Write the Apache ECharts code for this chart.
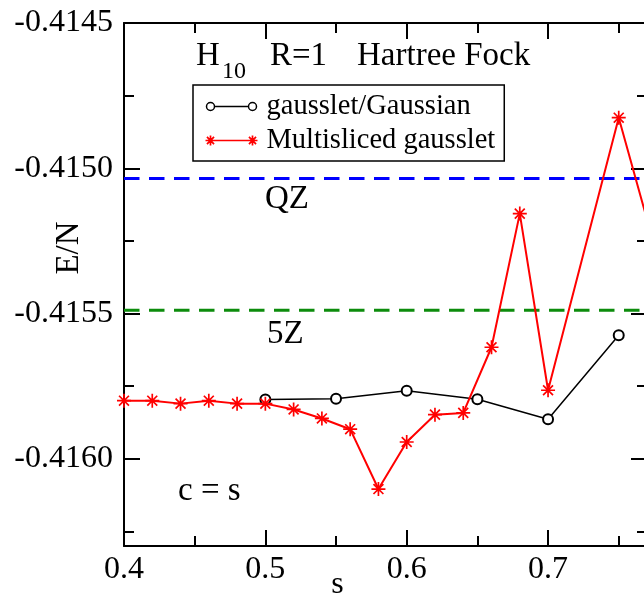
<!DOCTYPE html>
<html><head><meta charset="utf-8">
<script src="https://cdn.jsdelivr.net/npm/echarts@6/dist/echarts.min.js"></script>
<style>html,body{margin:0;padding:0;background:#fff}#c{width:644px;height:595px}</style>
</head><body><div id="c"></div>
<script>
// ---- data ----
const xTicks = [0.4, 0.5, 0.6, 0.7];
const xMinorTicks = [0.45, 0.55, 0.65, 0.75];
const yTicks = [-0.4160, -0.4155, -0.4150, -0.4145];
const yMinorTicks = [-0.41625, -0.41575, -0.41525, -0.41475];
const gaussX = [0.50, 0.55, 0.60, 0.65, 0.70, 0.75];
const gaussY = [-0.415796, -0.415793, -0.415766, -0.415795, -0.415864, -0.415575];
const msX = [0.40, 0.42, 0.44, 0.46, 0.48, 0.50, 0.52, 0.54, 0.56, 0.58, 0.60, 0.62, 0.64, 0.66, 0.68, 0.70, 0.75, 0.80];
const msY = [-0.41580, -0.41580, -0.41581, -0.41580, -0.41581, -0.41581, -0.41583, -0.415861, -0.415898, -0.416104, -0.415942, -0.415848, -0.415842, -0.415616, -0.415156, -0.415764, -0.414826, -0.415699];
const refX = [0.4, 0.77];
const refQZ = -0.415035;
const ref5Z = -0.415489;
const seriesNames = ['gausslet/Gaussian', 'Multisliced gausslet'];

const FF = 'Liberation Serif';
const X_MIN = 0.4, X_MAX = 0.77, Y_MIN = -0.4163, Y_MAX = -0.4145;
const tickStyle = {color: '#000', width: 2};

function xAx(pos, ticks, len, line, labels) {
  return {
    type: 'value', position: pos, min: X_MIN, max: X_MAX,
    axisLine: {show: line, onZero: false, lineStyle: {color: '#000', width: 2}},
    axisTick: {show: true, inside: true, length: len, customValues: ticks, lineStyle: tickStyle},
    axisLabel: labels ? {show: true, customValues: ticks, margin: 8, fontSize: 32, fontFamily: FF, color: '#000',
      formatter: v => Number(v).toFixed(1)} : {show: false},
    splitLine: {show: false}, minorTick: {show: false}, axisPointer: {show: false}
  };
}
function yAx(pos, ticks, len, line, labels) {
  return {
    type: 'value', position: pos, min: Y_MIN, max: Y_MAX,
    axisLine: {show: line, onZero: false, lineStyle: {color: '#000', width: 2}},
    axisTick: {show: true, inside: true, length: len, customValues: ticks, lineStyle: tickStyle},
    axisLabel: labels ? {show: true, customValues: ticks, margin: 11, fontSize: 32, fontFamily: FF, color: '#000',
      padding: [8, 0, 0, 0], formatter: v => Number(v).toFixed(4)} : {show: false},
    splitLine: {show: false}, minorTick: {show: false}, axisPointer: {show: false}
  };
}

const starPath = 'path://M0,-5L0,5M-5,0L5,0M-3.54,-3.54L3.54,3.54M-3.54,3.54L3.54,-3.54';
const legCircle = 'path://M0,0M56,12M1,6a4,4 0 1,0 8,0a4,4 0 1,0 -8,0M9,6L43,6M43,6a4,4 0 1,0 8,0a4,4 0 1,0 -8,0';
const legStar = 'path://M0,0M56,12M5,1L5,11M0,6L10,6M1.46,2.46L8.54,9.54M1.46,9.54L8.54,2.46M10,6L42,6' +
  'M47,1L47,11M42,6L52,6M43.46,2.46L50.54,9.54M43.46,9.54L50.54,2.46';

function refLine(val, color) {
  return {
    type: 'line', xAxisIndex: 0, yAxisIndex: 0, name: 'ref' + val,
    data: refX.map(x => [x, val]), symbol: 'none',
    lineStyle: {color: color, width: 3, type: [15.5, 9.5]},
    emphasis: {disabled: true}, silent: true, z: 2
  };
}

const chart = echarts.init(document.getElementById('c'), null, {renderer: 'canvas'});
const txt = (t, x, y, size, align, rot) => ({
  type: 'text', x: x, y: y, rotation: rot || 0, silent: true, z: 10,
  style: {text: t, fontFamily: FF, fontSize: size, fill: '#000', align: align || 'left', verticalAlign: 'middle'}
});
chart.setOption({
  animation: false,
  backgroundColor: '#fff',
  grid: {left: 124, top: 23, right: -3, bottom: 49, containLabel: false, outerBoundsMode: 'none'},
  xAxis: [
    xAx('bottom', xTicks, 16, true, true),
    xAx('bottom', xMinorTicks, 10, false, false),
    xAx('top', xTicks, 16, true, false),
    xAx('top', xMinorTicks, 10, false, false)
  ],
  yAxis: [
    yAx('left', yTicks, 16, true, true),
    yAx('left', yMinorTicks, 10, false, false),
    yAx('right', yTicks, 16, true, false),
    yAx('right', yMinorTicks, 10, false, false)
  ],
  legend: {
    orient: 'vertical', left: 193, top: 85, padding: [7, 9, 6, 10], itemGap: 5,
    itemWidth: 56, itemHeight: 12, borderColor: '#000', borderWidth: 1.5, borderRadius: 0,
    selectedMode: false,
    textStyle: {fontFamily: FF, fontSize: 28.5, color: '#000', lineHeight: 28},
    data: [
      {name: seriesNames[0], icon: legCircle, itemStyle: {color: 'none', borderColor: '#000', borderWidth: 1.5}},
      {name: seriesNames[1], icon: legStar, itemStyle: {color: 'none', borderColor: '#ff0000', borderWidth: 1.7}}
    ]
  },
  series: [
    refLine(refQZ, '#0000ff'),
    refLine(ref5Z, '#0c8c0c'),
    {
      type: 'line', name: seriesNames[0], xAxisIndex: 0, yAxisIndex: 0,
      data: gaussX.map((x, i) => [x, gaussY[i]]),
      symbol: 'emptyCircle', symbolSize: 10,
      lineStyle: {color: '#000', width: 1.5},
      itemStyle: {color: '#000', borderColor: '#000', borderWidth: 1.5},
      emphasis: {disabled: true}, silent: true, z: 3
    },
    {
      type: 'line', name: seriesNames[1], xAxisIndex: 0, yAxisIndex: 0,
      data: msX.map((x, i) => [x, msY[i]]),
      symbol: starPath, symbolSize: 14, symbolKeepAspect: true,
      lineStyle: {color: '#ff0000', width: 2},
      itemStyle: {color: '#ff0000', borderColor: '#ff0000', borderWidth: 1.7},
      emphasis: {disabled: true}, silent: true, z: 4, clip: true
    }
  ],
  graphic: [
    txt('H', 196, 56, 33),
    txt('10', 222, 71.5, 24),
    txt('R=1', 270, 56, 33),
    txt('Hartree Fock', 357, 56, 33),
    txt('QZ', 265, 199.5, 33),
    txt('5Z', 267, 334.5, 33),
    txt('c = s', 178, 491.5, 33),
    txt('E/N', 69.5, 248, 33, 'center', Math.PI / 2),
    txt('s', 337.5, 584.5, 32, 'center')
  ]
});
</script>
</body></html>
